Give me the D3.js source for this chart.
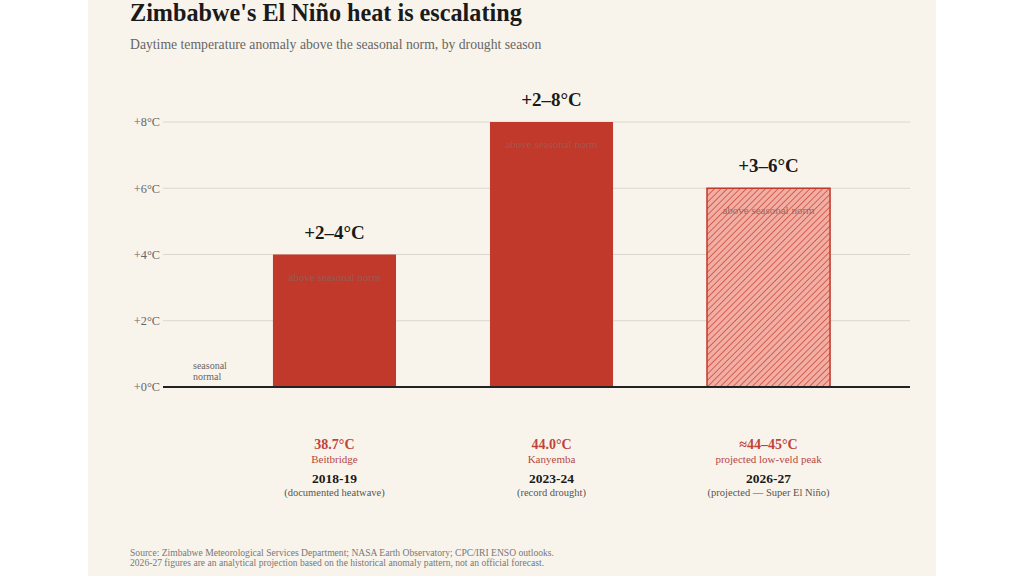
<!DOCTYPE html>
<html>
<head>
<meta charset="utf-8">
<script src="https://cdn.jsdelivr.net/npm/d3@7"></script>
<style>
  html, body { margin: 0; padding: 0; background: #ffffff; }
  #panel { width: 848px; height: 576px; margin: 0 auto; background: #f9f4eb; }
  svg { display: block; font-family: "Liberation Serif", "DejaVu Serif", serif; }
</style>
</head>
<body>
<div id="panel"><svg id="chart" width="848" height="576"></svg></div>
<script>
// Chart data
const seasons = ["2018-19", "2023-24", "2026-27"];
const seasonNotes = ["(documented heatwave)", "(record drought)", "(projected — Super El Niño)"];
const anomalyTop = [4, 8, 6];              // top of each bar, °C above norm
const rangeLabels = ["+2–4°C", "+2–8°C", "+3–6°C"];
const peakTemps = ["38.7°C", "44.0°C", "≈44–45°C"];
const peakPlaces = ["Beitbridge", "Kanyemba", "projected low-veld peak"];
const projected = [false, false, true];
const yTicks = [0, 2, 4, 6, 8];

const svg = d3.select("#chart");
const red = "#c0392b";

// hatch for the projected bar
const defs = svg.append("defs");
const hatch = defs.append("pattern")
    .attr("id", "hatch")
    .attr("patternUnits", "userSpaceOnUse")
    .attr("width", 4.5)
    .attr("height", 4.5)
    .attr("patternTransform", "rotate(45)");
hatch.append("rect").attr("width", 4.5).attr("height", 4.5).attr("fill", "#f3aea4");
hatch.append("line")
    .attr("x1", 0).attr("y1", 0).attr("x2", 0).attr("y2", 4.5)
    .attr("stroke", red).attr("stroke-width", 1.3);

// Title + subtitle
svg.append("text")
    .attr("x", 42).attr("y", 21)
    .attr("font-size", 24.2).attr("font-weight", "bold").attr("fill", "#1a1a1a")
    .text("Zimbabwe's El Niño heat is escalating");
svg.append("text")
    .attr("x", 42).attr("y", 49)
    .attr("font-size", 13.7).attr("fill", "#666")
    .text("Daytime temperature anomaly above the seasonal norm, by drought season");

// Scales
const x = d3.scaleBand()
    .domain(seasons)
    .range([127, 800])
    .paddingInner(0.433)
    .paddingOuter(0.267);
const y = d3.scaleLinear().domain([0, 8]).range([387, 122]);

const gridLeft = 75, gridRight = 822;

// gridlines + tick labels
const grid = svg.append("g");
grid.selectAll("line")
    .data(yTicks.filter(d => d > 0))
    .join("line")
    .attr("x1", gridLeft).attr("x2", gridRight)
    .attr("y1", d => y(d)).attr("y2", d => y(d))
    .attr("stroke", "#ddd6cb").attr("stroke-width", 1);
grid.selectAll("text")
    .data(yTicks)
    .join("text")
    .attr("x", 72).attr("y", d => y(d))
    .attr("dy", "0.35em")
    .attr("text-anchor", "end")
    .attr("font-size", 12.3).attr("fill", "#666")
    .text(d => "+" + d + "°C");

// bars
const bars = svg.append("g").selectAll("g")
    .data(seasons)
    .join("g");

bars.append("rect")
    .attr("x", d => x(d))
    .attr("width", x.bandwidth())
    .attr("y", (d, i) => y(anomalyTop[i]))
    .attr("height", (d, i) => y(0) - y(anomalyTop[i]))
    .attr("fill", (d, i) => projected[i] ? "url(#hatch)" : red)
    .attr("stroke", (d, i) => projected[i] ? red : "none")
    .attr("stroke-width", 1.5);

bars.append("text")
    .attr("x", d => x(d) + x.bandwidth() / 2)
    .attr("y", (d, i) => y(anomalyTop[i]) + 26)
    .attr("text-anchor", "middle")
    .attr("font-size", 11)
    .attr("fill", (d, i) => projected[i] ? "#9a6a62" : "#9c5a52")
    .text("above seasonal norm");

bars.append("text")
    .attr("x", d => x(d) + x.bandwidth() / 2)
    .attr("y", (d, i) => y(anomalyTop[i]) - 16)
    .attr("text-anchor", "middle")
    .attr("font-size", 19).attr("font-weight", "bold").attr("fill", "#1a1a1a")
    .text((d, i) => rangeLabels[i]);

// bottom labels
const cx = d => x(d) + x.bandwidth() / 2;
bars.append("text")
    .attr("x", cx).attr("y", 449)
    .attr("text-anchor", "middle")
    .attr("font-size", 14).attr("font-weight", "bold").attr("fill", "#c0443a")
    .text((d, i) => peakTemps[i]);
bars.append("text")
    .attr("x", cx).attr("y", 463)
    .attr("text-anchor", "middle")
    .attr("font-size", 11).attr("fill", "#b5483f")
    .text((d, i) => peakPlaces[i]);
bars.append("text")
    .attr("x", cx).attr("y", 483)
    .attr("text-anchor", "middle")
    .attr("font-size", 13.5).attr("font-weight", "bold").attr("fill", "#1a1a1a")
    .text(d => d);
bars.append("text")
    .attr("x", cx).attr("y", 496)
    .attr("text-anchor", "middle")
    .attr("font-size", 10.5).attr("fill", "#555")
    .text((d, i) => seasonNotes[i]);

// zero baseline
svg.append("line")
    .attr("x1", gridLeft).attr("x2", gridRight)
    .attr("y1", y(0)).attr("y2", y(0))
    .attr("stroke", "#222").attr("stroke-width", 2);

// "seasonal normal" note
const note = svg.append("text")
    .attr("x", 105).attr("font-size", 10).attr("fill", "#666");
note.append("tspan").attr("x", 105).attr("y", 369).text("seasonal");
note.append("tspan").attr("x", 105).attr("y", 380).text("normal");

// source
svg.append("text")
    .attr("x", 42).attr("y", 556)
    .attr("font-size", 9.6).attr("fill", "#777")
    .text("Source: Zimbabwe Meteorological Services Department; NASA Earth Observatory; CPC/IRI ENSO outlooks.");
svg.append("text")
    .attr("x", 42).attr("y", 566)
    .attr("font-size", 9.6).attr("fill", "#777")
    .text("2026-27 figures are an analytical projection based on the historical anomaly pattern, not an official forecast.");
</script>
</body>
</html>
